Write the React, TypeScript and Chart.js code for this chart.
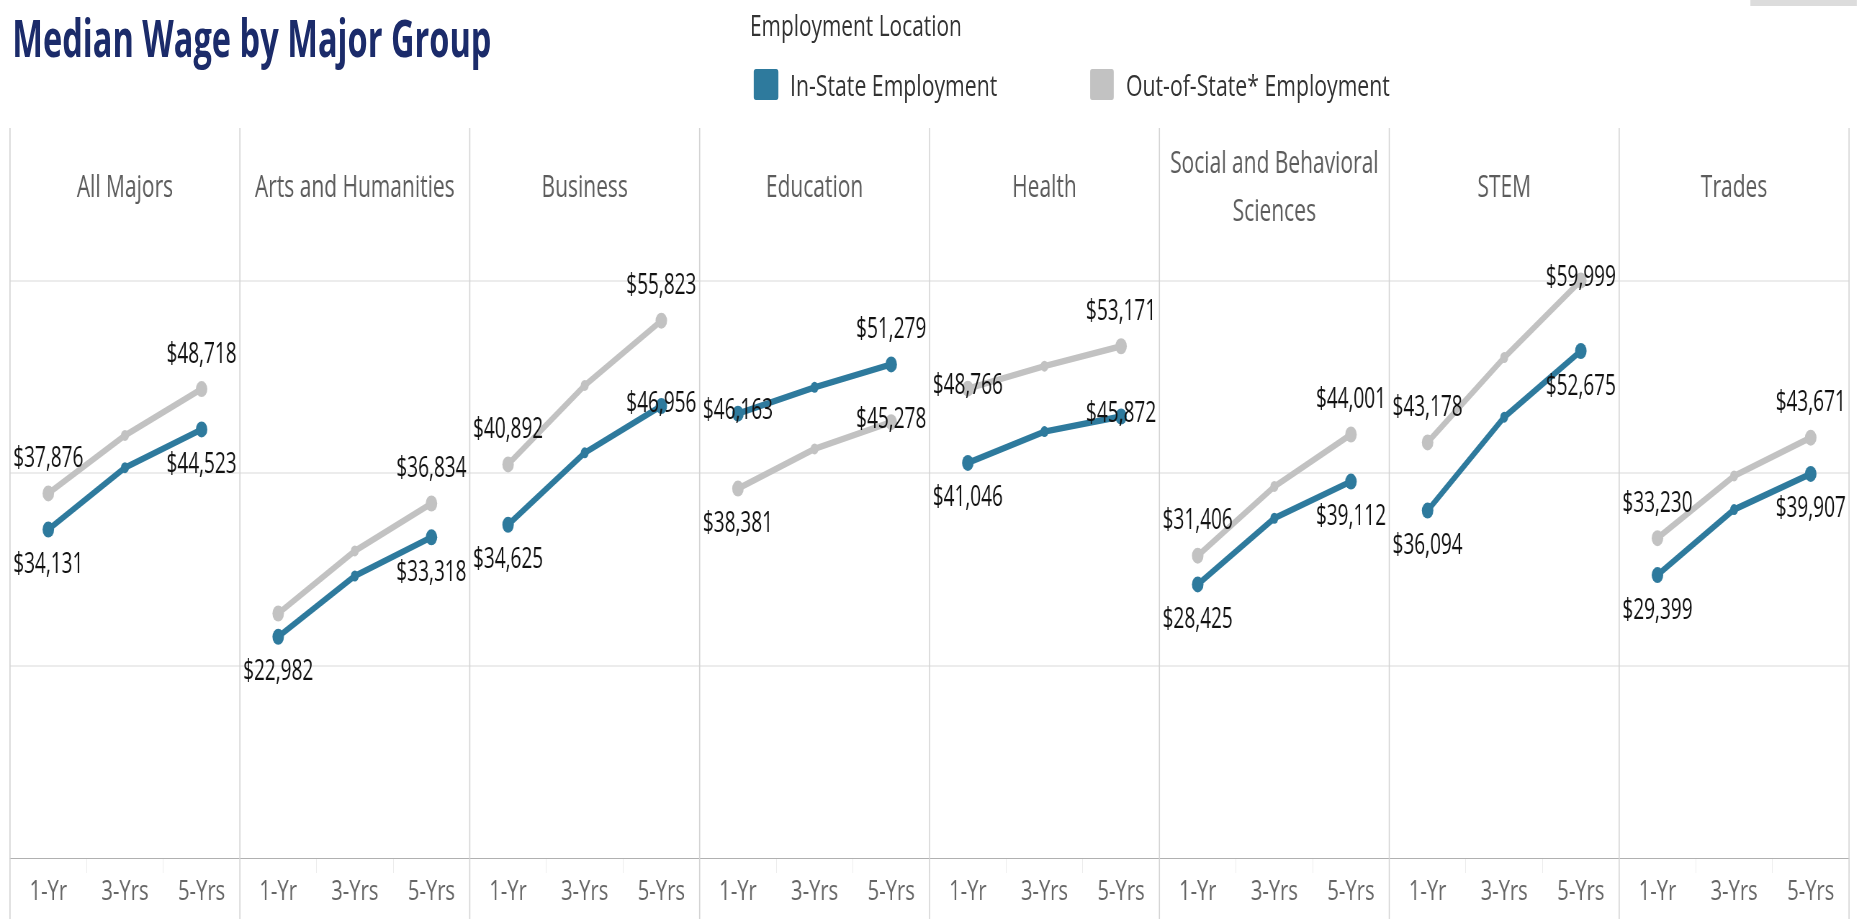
import React, { useEffect, useRef } from "react";
import { Chart, registerables } from "chart.js";

Chart.register(...registerables);

// ---------- data ----------
const majorGroups: (string | string[])[] = [
  "All Majors",
  "Arts and Humanities",
  "Business",
  "Education",
  "Health",
  ["Social and Behavioral", "Sciences"],
  "STEM",
  "Trades",
];
const periods = ["1-Yr", "3-Yrs", "5-Yrs"];

// 1-Yr, 3-Yrs, 5-Yrs for each major group, in the order above
const inStateWage = [
  34131, 40550, 44523,
  22982, 29300, 33318,
  34625, 42100, 46956,
  46163, 48900, 51279,
  41046, 44300, 45872,
  28425, 35300, 39112,
  36094, 45800, 52675,
  29399, 36200, 39907,
];
const outStateWage = [
  37876, 43900, 48718,
  25400, 31900, 36834,
  40892, 49100, 55823,
  38381, 42500, 45278,
  48766, 51100, 53171,
  31406, 38600, 44001,
  43178, 52000, 59999,
  33230, 39700, 43671,
];

// hidden value axis: gridline values and upper bound
const yGridValues = [0, 20000, 40000, 60000];
const yMax = 64000;

// label placement of first / last point per group: a = above, b = below, c = on point, n = hidden
const inStateLabelPos = ["b", "b", "b", "b", "b", "c", "c", "a", "b", "c", "b", "b", "b", "b", "b", "b"];
const outStateLabelPos = ["a", "a", "n", "a", "a", "a", "b", "c", "c", "a", "a", "a", "a", "c", "a", "a"];

const seriesNames = ["In-State Employment", "Out-of-State* Employment"];

// ---------- style ----------
const S = 0.72; // horizontal compression of the whole picture
const PAGE_W = 1857;
const PAGE_H = 919;
const CANVAS_TOP = 128;
const BLUE = "#2e7a9d";
const GRAY = "#c2c2c2";
const FONT = "'Open Sans', 'DejaVu Sans', sans-serif";

const fmt = (v: number) => "$" + v.toLocaleString("en-US");

function drawText(ctx: CanvasRenderingContext2D, text: string, x: number, y: number, sx: number) {
  ctx.save();
  ctx.translate(x, y);
  ctx.scale(sx, 1);
  ctx.fillText(text, 0, 0);
  ctx.restore();
}

const panelPlugin = {
  id: "panelPlugin",
  beforeDatasetsDraw(chart: any) {
    const { ctx, chartArea, scales } = chart;
    const x = scales.x;
    ctx.save();
    ctx.strokeStyle = "#d4d4d4";
    ctx.lineWidth = 1.6;
    const n = majorGroups.length;
    for (let k = 0; k <= n; k++) {
      let px: number;
      if (k === 0) px = chartArea.left;
      else if (k === n) px = chartArea.right;
      else px = (x.getPixelForValue(3 * k - 1) + x.getPixelForValue(3 * k)) / 2;
      ctx.beginPath();
      ctx.moveTo(px, 0);
      ctx.lineTo(px, chart.height);
      ctx.stroke();
    }
    ctx.fillStyle = "#5c5c5c";
    ctx.font = `31px ${FONT}`;
    ctx.textAlign = "center";
    ctx.textBaseline = "middle";
    majorGroups.forEach((g, k) => {
      const cx = x.getPixelForValue(3 * k + 1);
      const lines = Array.isArray(g) ? g : [g];
      const lh = 48;
      lines.forEach((ln, i) => {
        drawText(ctx, ln, cx, 60 + (i - (lines.length - 1) / 2) * lh, 0.94);
      });
    });
    ctx.restore();
  },
  afterDatasetsDraw(chart: any) {
    const { ctx } = chart;
    ctx.save();
    ctx.fillStyle = "#111111";
    ctx.font = `30px ${FONT}`;
    ctx.textAlign = "center";
    ctx.textBaseline = "middle";
    chart.data.datasets.forEach((ds: any, di: number) => {
      const meta = chart.getDatasetMeta(di);
      const pos = di === 0 ? inStateLabelPos : outStateLabelPos;
      majorGroups.forEach((_, k) => {
        [0, 2].forEach((j, jj) => {
          const p = pos[2 * k + jj];
          if (p === "n") return;
          const el = meta.data[3 * k + j];
          const dy = p === "a" ? -35 : p === "b" ? 35 : -3;
          drawText(ctx, fmt(ds.data[3 * k + j]), el.x, el.y + dy, 0.88);
        });
      });
    });
    ctx.restore();
  },
};

function makeDataset(label: string, data: number[], color: string) {
  return {
    label,
    data,
    borderColor: color,
    backgroundColor: color,
    pointBackgroundColor: color,
    pointBorderColor: color,
    pointBorderWidth: 0,
    borderWidth: 6.5,
    tension: 0,
    pointRadius: (c: any) => (c.dataIndex % 3 === 1 ? 5.5 : 8),
    segment: {
      borderColor: (c: any) => (c.p0DataIndex % 3 === 2 ? "rgba(0,0,0,0)" : color),
    },
  };
}

export default function App() {
  const canvasRef = useRef<HTMLCanvasElement | null>(null);

  useEffect(() => {
    if (!canvasRef.current) return;
    const chart = new Chart(canvasRef.current, {
      type: "line",
      data: {
        labels: majorGroups.flatMap(() => periods),
        datasets: [
          makeDataset(seriesNames[0], inStateWage, BLUE),
          makeDataset(seriesNames[1], outStateWage, GRAY),
        ] as any,
      },
      options: {
        animation: false,
        responsive: true,
        maintainAspectRatio: false,
        layout: { padding: { left: 10 / S, right: 8 / S, top: 114, bottom: 0 } },
        plugins: { legend: { display: false }, tooltip: { enabled: false } },
        scales: {
          x: {
            type: "category",
            offset: true,
            grid: {
              offset: true,
              drawOnChartArea: false,
              drawTicks: true,
              tickLength: 15,
              tickColor: "#ececec",
            },
            border: { display: true, color: "#b0b0b0", dash: [2, 3], width: 1 },
            ticks: {
              autoSkip: false,
              maxRotation: 0,
              minRotation: 0,
              padding: 2,
              color: "#666666",
              font: { family: FONT, size: 28 },
            },
            afterFit: (s: any) => {
              s.height = 61;
            },
          },
          y: {
            min: 0,
            max: yMax,
            ticks: { display: false },
            border: { display: false },
            grid: {
              drawTicks: false,
              lineWidth: 2,
              color: (c: any) => (c.tick && c.tick.value === 0 ? "rgba(0,0,0,0)" : "#ececec"),
            },
            afterBuildTicks: (s: any) => {
              s.ticks = yGridValues.map((v) => ({ value: v }));
            },
            afterFit: (s: any) => {
              s.width = 0;
            },
          },
        },
      } as any,
      plugins: [panelPlugin as any],
    });
    return () => chart.destroy();
  }, []);

  const ux = (px: number) => px / S;

  return (
    <div
      style={{
        position: "fixed",
        left: 0,
        top: 0,
        width: PAGE_W,
        height: PAGE_H,
        overflow: "hidden",
        background: "#ffffff",
      }}
    >
      <div
        style={{
          position: "absolute",
          left: 0,
          top: 0,
          width: ux(PAGE_W),
          height: PAGE_H,
          transform: `scaleX(${S})`,
          transformOrigin: "0 0",
          fontFamily: FONT,
        }}
      >
        <div
          style={{
            position: "absolute",
            left: ux(1750),
            top: 0,
            width: ux(107),
            height: 6,
            background: "#dcdcdc",
          }}
        />
        <div
          style={{
            position: "absolute",
            left: ux(12),
            top: 11,
            fontSize: 52,
            lineHeight: "52px",
            fontWeight: 700,
            color: "#1b2b6a",
            whiteSpace: "nowrap",
            transform: "scaleX(0.87)",
            transformOrigin: "0 0",
          }}
        >
          Median Wage by Major Group
        </div>
        <div
          style={{
            position: "absolute",
            left: ux(750),
            top: 10,
            fontSize: 29,
            lineHeight: "29px",
            color: "#333333",
            whiteSpace: "nowrap",
          }}
        >
          Employment Location
        </div>
        {[
          { name: seriesNames[0], color: BLUE, sx: 754, tx: 790 },
          { name: seriesNames[1], color: GRAY, sx: 1090, tx: 1126 },
        ].map((it) => (
          <React.Fragment key={it.name}>
            <div
              style={{
                position: "absolute",
                left: ux(it.sx),
                top: 69,
                width: ux(24),
                height: 31,
                background: it.color,
                borderRadius: 3,
              }}
            />
            <div
              style={{
                position: "absolute",
                left: ux(it.tx),
                top: 69,
                fontSize: 29.5,
                lineHeight: "31px",
                color: "#333333",
                whiteSpace: "nowrap",
              }}
            >
              {it.name}
            </div>
          </React.Fragment>
        ))}
        <div
          style={{
            position: "absolute",
            left: 0,
            top: CANVAS_TOP,
            width: ux(PAGE_W),
            height: PAGE_H - CANVAS_TOP,
          }}
        >
          <canvas ref={canvasRef} />
        </div>
      </div>
    </div>
  );
}
